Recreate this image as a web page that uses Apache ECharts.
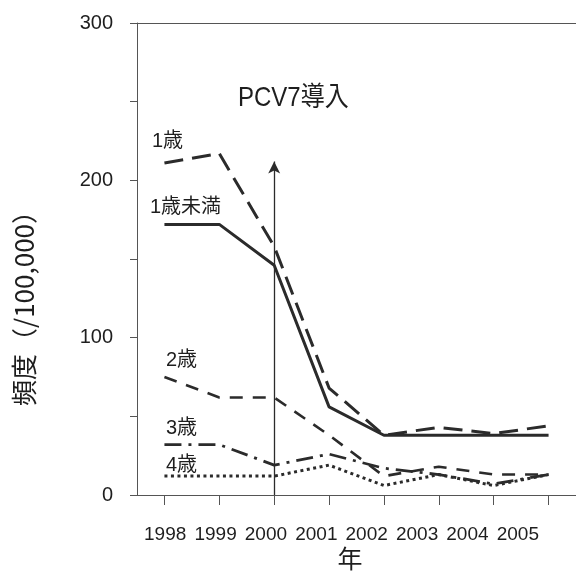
<!DOCTYPE html>
<html><head><meta charset="utf-8">
<script src="https://cdn.jsdelivr.net/npm/echarts@6/dist/echarts.min.js"></script>
<style>html,body{margin:0;padding:0;background:#fff}#c{width:576px;height:571px}</style>
</head><body><div id="c"></div>
<script>
const years = ['1998','1999','2000','2001','2002','2003','2004','2005'];
const under1 = [172, 172, 146, 56, 38, 38, 38, 38];
const age1 = [211, 217, 158, 68, 38, 43, 39, 44];
const age2 = [75, 62, 62, 38, 12, 18, 13, 13];
const age3 = [32, 32, 19, 26, 17, 13, 7, 13];
const age4 = [12, 12, 12, 19, 6, 13, 6, 13];
const yTicks = [0, 100, 200, 300];

const FONT = "'Liberation Sans', 'Noto Sans CJK JP', sans-serif";
const CJK = "'Noto Sans CJK JP', sans-serif";
const INK = '#2b2b2b';
const TXT = '#1e1e1e';
const chart = echarts.init(document.getElementById('c'));
function line(name, data, type, width, z) {
  return { name, type: 'line', data, xAxisIndex: 0, yAxisIndex: 0, symbol: 'none', z: z || 2,
    lineStyle: { color: INK, width, type } };
}
const s0 = line('1歳未満', under1, 'solid', 3, 3);
s0.markLine = {
  silent: true, symbol: ['none', 'arrow'], symbolSize: [9, 12],
  label: { show: false },
  lineStyle: { color: INK, width: 1.3, type: 'solid' },
  data: [[{ coord: ['2000', 0] }, { coord: ['2000', 212] }]]
};
function lab(text, x, y) {
  return { type: 'text', x, y, style: { text, font: "20px " + FONT, fill: TXT, verticalAlign: 'middle' } };
}
chart.setOption({
  animation: false,
  textStyle: { fontFamily: FONT },
  grid: [
    { left: 137, width: 440, top: 23, bottom: 76 },
    { left: 140, width: 403, top: 480, bottom: 76 }
  ],
  xAxis: [
    { type: 'category', data: years, gridIndex: 0, boundaryGap: true, position: 'bottom',
      axisLine: { lineStyle: { color: '#555', width: 1 } },
      axisTick: { show: true, alignWithLabel: true, length: 10, lineStyle: { color: '#555' } },
      axisLabel: { show: false } },
    { type: 'category', data: years, gridIndex: 0, position: 'top',
      axisLine: { lineStyle: { color: '#555', width: 1 } },
      axisTick: { show: false }, axisLabel: { show: false } },
    { type: 'category', data: years, gridIndex: 1, boundaryGap: true, position: 'bottom',
      axisLine: { show: false }, axisTick: { show: false },
      axisLabel: { show: true, margin: 30, fontSize: 19, color: TXT, fontFamily: FONT, interval: 0 } }
  ],
  yAxis: [
    { type: 'value', gridIndex: 0, min: 0, max: 300, interval: 50,
      axisLine: { show: true, lineStyle: { color: '#555', width: 1 } },
      axisTick: { show: true, length: 7, lineStyle: { color: '#555' } },
      splitLine: { show: false },
      axisLabel: { margin: 24, fontSize: 20, color: TXT, fontFamily: FONT,
        formatter: v => yTicks.includes(v) ? String(v) : '' } },
    { type: 'value', gridIndex: 1, show: false }
  ],
  series: [
    s0,
    line('1歳', age1, [19, 9], 3),
    line('2歳', age2, [13, 10], 2.6),
    line('3歳', age3, [17, 7, 3, 7], 2.8),
    line('4歳', age4, [3, 3.5], 3)
  ],
  graphic: [
    { type: 'text', x: 238, y: 112, scaleY: 1.12, originY: 112,
      style: { text: 'PCV7導入', font: "24px " + FONT, fill: TXT, verticalAlign: 'middle' } },
    lab('1歳', 152, 141),
    lab('1歳未満', 150, 207),
    lab('2歳', 166, 360),
    lab('3歳', 166, 428),
    lab('4歳', 166, 465),
    { type: 'text', x: 350, y: 558,
      style: { text: '年', font: "25px " + CJK, fill: TXT, align: 'center', verticalAlign: 'middle' } },
    { type: 'text', x: 24, y: 302, rotation: Math.PI / 2,
      style: { text: '頻度（/100,000）', font: "26px " + CJK, fill: TXT, align: 'center', verticalAlign: 'middle' } }
  ]
});
</script></body></html>
